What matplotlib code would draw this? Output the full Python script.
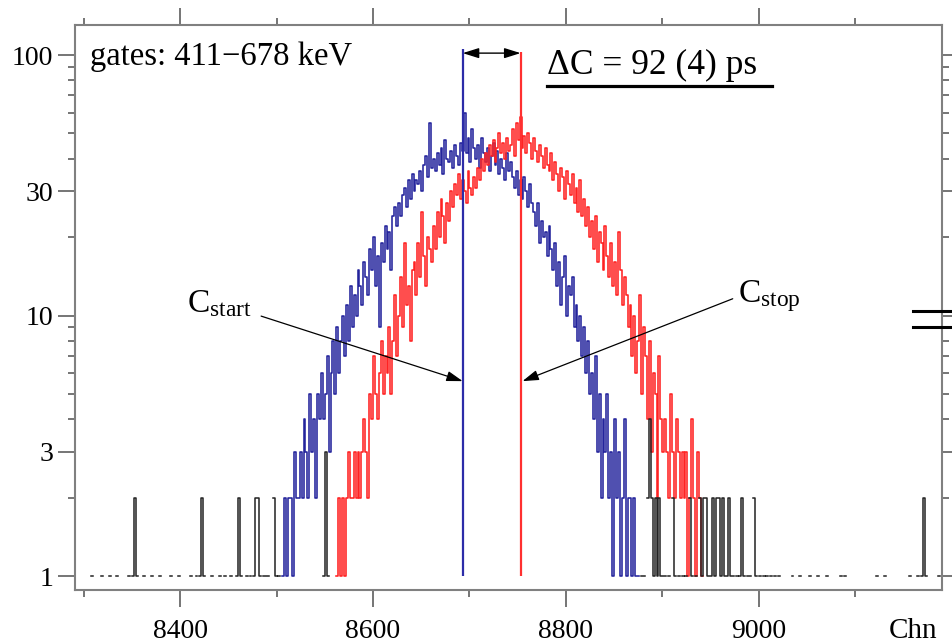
import numpy as np
import matplotlib
matplotlib.use('Agg')
import matplotlib.pyplot as plt
from matplotlib.ticker import FixedLocator, FixedFormatter, NullFormatter
from matplotlib.lines import Line2D

plt.rcParams['font.family'] = ['Liberation Serif', 'DejaVu Serif']
plt.rcParams['mathtext.fontset'] = 'custom'
plt.rcParams['mathtext.rm'] = 'Liberation Serif'
plt.rcParams['mathtext.it'] = 'Liberation Serif:italic'

# histogram data (2 channels per bin, first value = left edge)
bin_width = 2
x_lo, x_hi = 8290, 9190

blue_first = 8506
blue_counts = [
    1, 2, 1, 2, 2, 1, 3, 2, 2, 3,
    2, 4, 3, 2, 5, 3, 4, 2, 5, 4,
    6, 4, 5, 7, 3, 6, 8, 5, 9, 6,
    8, 10, 7, 11, 8, 13, 9, 12, 10, 15,
    13, 11, 16, 14, 12, 18, 15, 20, 13, 17,
    9, 19, 16, 22, 18, 21, 15, 24, 26, 22,
    27, 24, 29, 31, 26, 33, 28, 35, 30, 33,
    32, 36, 30, 38, 41, 34, 55, 37, 40, 36,
    42, 38, 44, 35, 47, 40, 39, 43, 37, 45,
    41, 38, 46, 43, 60, 42, 48, 39, 52, 44,
    40, 45, 37, 48, 42, 39, 44, 36, 41, 46,
    38, 43, 35, 40, 37, 33, 42, 36, 39, 34,
    31, 36, 29, 33, 28, 34, 30, 26, 32, 27,
    25, 22, 27, 19, 23, 20, 21, 17, 22, 18,
    15, 19, 13, 16, 11, 14, 17, 10, 13, 12,
    14, 9, 11, 8, 10, 7, 9, 6, 8, 5,
    6, 4, 7, 3, 5, 2, 4, 3, 5, 2,
    3, 1, 4, 2, 3, 1, 2, 4, 1, 2,
    2, 1, 2, 1, 1,
]

red_first = 8562
red_counts = [
    1, 2, 1, 2, 1, 2, 3, 2, 2, 3,
    2, 3, 2, 3, 4, 3, 2, 5, 4, 7,
    5, 4, 6, 8, 5, 7, 6, 9, 5, 8,
    12, 7, 10, 14, 9, 19, 11, 13, 8, 15,
    16, 12, 19, 14, 25, 17, 13, 20, 18, 16,
    22, 18, 25, 20, 28, 24, 19, 27, 23, 30,
    26, 32, 29, 35, 28, 33, 30, 27, 36, 31,
    29, 34, 31, 37, 33, 40, 36, 42, 38, 45,
    41, 47, 39, 44, 50, 42, 46, 40, 48, 43,
    45, 52, 41, 55, 47, 58, 44, 49, 42, 50,
    46, 40, 48, 43, 39, 45, 41, 37, 44, 38,
    36, 42, 33, 39, 35, 30, 37, 34, 28, 36,
    32, 29, 35, 27, 31, 25, 33, 24, 28, 22,
    26, 20, 23, 18, 24, 16, 21, 19, 15, 22,
    17, 14, 19, 13, 16, 12, 21, 15, 11, 14,
    12, 9, 11, 7, 10, 6, 8, 12, 5, 9,
    7, 4, 8, 3, 6, 5, 2, 7, 4, 3,
    4, 3, 2, 5, 3, 2, 4, 3, 2, 3,
    2, 3, 1, 2, 4, 2, 1, 3, 2, 1,
]

# black (tail) histogram: bin left edge -> counts
black_channels = [
    8308, 8318, 8326, 8334, 8346, 8350, 8352, 8354, 8362, 8370, 8378, 8390,
    8398, 8410, 8416, 8420, 8422, 8424, 8432, 8440, 8446, 8452, 8458, 8460,
    8462, 8468, 8472, 8476, 8478, 8480, 8482, 8486, 8488, 8490, 8496, 8498,
    8502, 8548, 8550, 8552,
    8878, 8880, 8884, 8886, 8888, 8890, 8892, 8894, 8896, 8898, 8900, 8902,
    8906, 8910, 8912, 8916, 8920, 8924, 8928, 8930, 8934, 8938, 8940, 8942,
    8944, 8946, 8948, 8950, 8952, 8954, 8956, 8958, 8960, 8962, 8964, 8966,
    8968, 8970, 8972, 8976, 8980, 8982, 8984, 8988, 8990, 8994, 8996, 9000,
    9004, 9008, 9012, 9016, 9020, 9034, 9042, 9052, 9060, 9070, 9084, 9088,
    9122, 9130, 9156, 9164, 9168, 9170, 9172, 9186,
]
black_counts = [
    1, 1, 1, 1, 1, 1, 2, 1, 1, 1, 1, 1,
    1, 1, 1, 1, 2, 1, 1, 1, 1, 1, 1, 2,
    1, 1, 1, 1, 2, 2, 1, 1, 1, 1, 2, 1,
    1, 1, 3, 1,
    1, 1, 2, 4, 2, 1, 2, 1, 2, 1, 1, 1,
    1, 2, 1, 1, 1, 1, 2, 1, 1, 2, 1, 2,
    2, 1, 1, 1, 2, 1, 2, 2, 1, 2, 1, 1,
    2, 1, 1, 1, 1, 2, 1, 1, 1, 2, 1, 1,
    1, 1, 1, 1, 1, 1, 1, 1, 1, 1, 1, 1,
    1, 1, 1, 1, 1, 2, 1, 1,
]

c_start, c_stop = 8693, 8753
c_start_top, c_stop_top = 105.5, 102.7
y_ticks = [1, 3, 10, 30, 100]
y_minor = [2, 4, 5, 6, 7, 8, 9, 20, 40, 50, 60, 70, 80, 90]
x_ticks = [8400, 8600, 8800, 9000]
x_minor = [8300, 8500, 8700, 8900, 9100]


def step_xy(first, counts):
    c = np.array(counts, dtype=float)
    c[c <= 0] = np.nan
    edges = first + bin_width * np.arange(len(c) + 1)
    return edges, np.append(c, c[-1])


black_full = np.zeros((x_hi - x_lo) // bin_width)
for ch, n in zip(black_channels, black_counts):
    black_full[(ch - x_lo) // bin_width] = n

fig = plt.figure(figsize=(9.53, 6.43), dpi=100)
ax = fig.add_axes([75 / 953, 1 - 590 / 643, 867 / 953, 565 / 643])
ax.set_yscale('log')

bx, by = step_xy(blue_first, blue_counts)
ax.step(bx, by, where='post', color='#24249c', lw=1.15, zorder=2)
rx, ry = step_xy(red_first, red_counts)
ax.step(rx, ry, where='post', color='#ff2222', lw=1.15, zorder=3)
kx, ky = step_xy(x_lo, black_full)
ax.step(kx, ky, where='post', color='#222222', lw=1.1, zorder=4)

ax.vlines(c_start, 1, c_start_top, color='#2c2ca8', lw=1.6, zorder=5)
ax.vlines(c_stop, 1, c_stop_top, color='#ff3030', lw=1.6, zorder=5)
ax.annotate('', xy=(c_stop, 101.7), xytext=(c_start, 101.7),
            arrowprops=dict(arrowstyle='<|-|>,head_length=0.7,head_width=0.22',
                            color='k', lw=1.0, mutation_scale=14,
                            shrinkA=0, shrinkB=0), zorder=6)
ax.annotate('', xy=(c_start, 5.6), xytext=(8484, 9.95),
            arrowprops=dict(arrowstyle='-|>,head_length=0.7,head_width=0.22',
                            color='k', lw=0.9, mutation_scale=14,
                            shrinkA=0, shrinkB=0), zorder=6)
ax.annotate('', xy=(c_stop + 2, 5.6), xytext=(8973, 11.6),
            arrowprops=dict(arrowstyle='-|>,head_length=0.7,head_width=0.22',
                            color='k', lw=0.9, mutation_scale=14,
                            shrinkA=0, shrinkB=0), zorder=6)

ax.set_xlim(8291, 9190)
ax.set_ylim(0.884, 130.4)

ax.xaxis.set_major_locator(FixedLocator(x_ticks))
ax.xaxis.set_minor_locator(FixedLocator(x_minor))
ax.yaxis.set_major_locator(FixedLocator(y_ticks))
ax.yaxis.set_major_formatter(FixedFormatter([str(v) for v in y_ticks]))
ax.yaxis.set_minor_locator(FixedLocator(y_minor))
ax.yaxis.set_minor_formatter(NullFormatter())

for s in ax.spines.values():
    s.set_color('#808080')
    s.set_linewidth(1.5)
ax.tick_params(which='both', direction='out', top=True, right=True,
               color='#505050', width=1.1, labelcolor='k', labelsize=20)
ax.tick_params(which='major', length=12)
ax.tick_params(which='minor', length=5)
ax.tick_params(axis='x', which='major', pad=9)
ax.tick_params(axis='y', which='major', pad=3.5)

fig.text(90 / 953, 1 - 65 / 643, 'gates: 411\u2212678 keV', fontsize=23.5,
         va='baseline', ha='left')
fig.text(547 / 953, 1 - 74 / 643, '\u0394C = 92 (4) ps', fontsize=25.5,
         va='baseline', ha='left')
fig.add_artist(Line2D([547 / 953, 772 / 953], [1 - 86 / 643] * 2,
                      transform=fig.transFigure, color='k', lw=2.3))
fig.text(187 / 953, 1 - 312 / 643, r'C$_{\mathrm{start}}$', fontsize=24,
         va='baseline', ha='left')
fig.text(738 / 953, 1 - 302 / 643, r'C$_{\mathrm{stop}}$', fontsize=24,
         va='baseline', ha='left')
fig.text(937 / 953, 1 - 638 / 643, 'Chn', fontsize=21, va='baseline', ha='right')

# axis break mark on the right edge
for yp in (311, 327):
    fig.add_artist(Line2D([913 / 953, 1.0], [1 - yp / 643] * 2,
                          transform=fig.transFigure, color='k', lw=2.2))

fig.savefig('out.png', dpi=100)
